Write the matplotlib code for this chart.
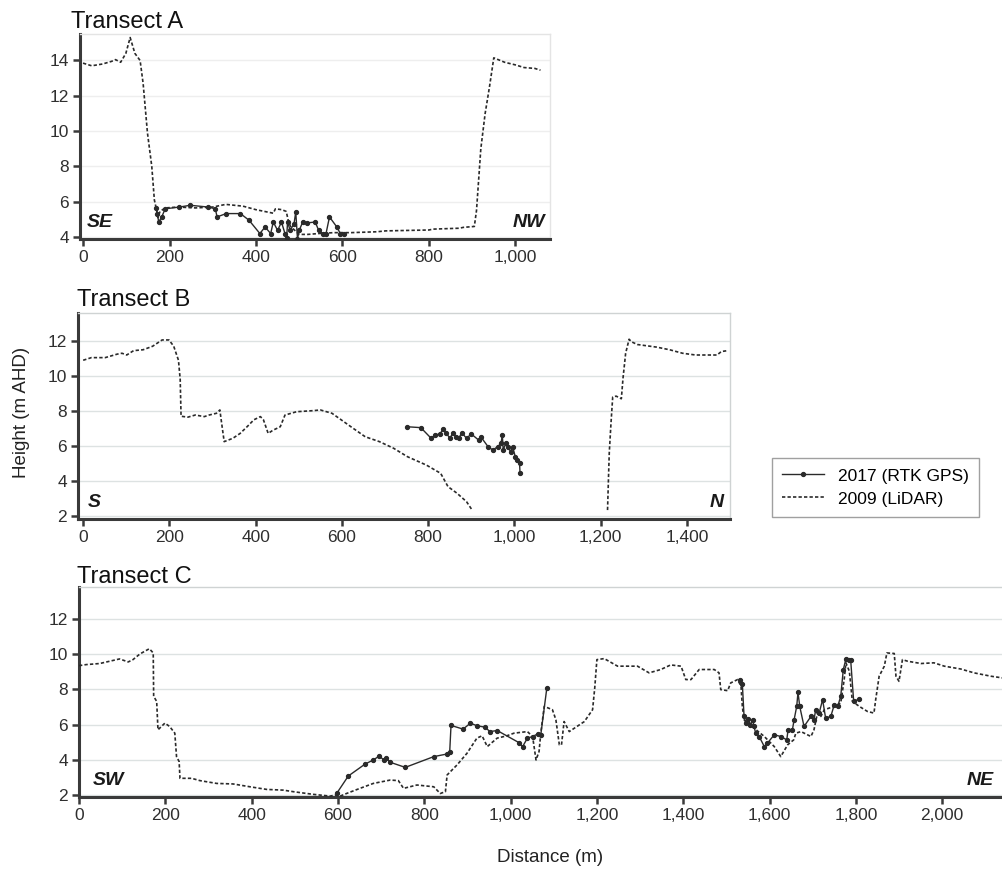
import numpy as np
import matplotlib
matplotlib.use('Agg')
import matplotlib.pyplot as plt
from matplotlib.ticker import FuncFormatter

plt.rcParams['font.family'] = ['Liberation Sans', 'DejaVu Sans']

# Transect A
a_lidar_x = [0, 20, 45, 66, 75, 87, 99, 109, 120, 132, 139, 149, 159, 165, 170, 173, 178, 190, 220, 260,
             300, 330, 370, 400, 430, 440, 445, 460, 470, 475, 480, 500, 520, 545, 580, 620, 680, 700,
             800, 810, 870, 880, 905, 910, 920, 930, 940, 950, 975, 1000, 1020, 1045, 1058]
a_lidar_y = [13.85, 13.7, 13.8, 13.95, 14.05, 13.9, 14.4, 15.3, 14.4, 14.0, 12.7, 9.9, 8.0, 6.1, 5.55, 5.1,
             5.45, 5.65, 5.7, 5.65, 5.7, 5.85, 5.75, 5.55, 5.4, 5.35, 5.6, 5.55, 5.45, 4.9, 4.6, 4.15, 4.15,
             4.2, 4.25, 4.25, 4.3, 4.35, 4.4, 4.45, 4.5, 4.55, 4.6, 5.5, 9.0, 11.0, 12.5, 14.15, 13.9,
             13.75, 13.6, 13.55, 13.45]
a_gps_x = [169, 172, 175, 182, 190, 223, 248, 289, 306, 310, 331, 364, 384, 409, 421, 434, 440, 450, 459,
           467, 471, 473, 479, 488, 492, 496, 500, 508, 517, 537, 545, 554, 562, 570, 587, 595, 603]
a_gps_y = [5.67, 5.33, 4.85, 5.14, 5.6, 5.7, 5.8, 5.7, 5.6, 5.14, 5.33, 5.33, 4.95, 4.2, 4.57, 4.2, 4.85,
           4.38, 4.85, 4.2, 3.96, 4.85, 4.38, 4.76, 5.42, 3.9, 4.38, 4.85, 4.8, 4.85, 4.38, 4.2, 4.2, 5.14,
           4.57, 4.2, 4.2]

# Transect B (gap in the LiDAR line between the two segments)
b_lidar_x = [0, 19, 51, 79, 90, 101, 117, 139, 161, 183, 199, 210, 221, 225, 227, 243, 260, 281, 292, 309,
             317, 320, 327, 347, 364, 380, 396, 411, 418, 429, 440, 457, 468, 495, 533, 550, 577, 621, 654,
             687, 720, 752, 796, 829, 846, 867, 889, 902, 1000,
             1216, 1218, 1220, 1224, 1228, 1236, 1248, 1252, 1258, 1266, 1272, 1285, 1300, 1330, 1360,
             1390, 1420, 1440, 1470, 1480, 1495]
b_lidar_y = [10.9, 11.05, 11.05, 11.25, 11.3, 11.2, 11.45, 11.5, 11.7, 12.06, 12.06, 11.7, 10.9, 9.8, 7.7,
             7.65, 7.77, 7.68, 7.77, 7.87, 8.06, 7.5, 6.25, 6.44, 6.72, 7.1, 7.5, 7.68, 7.5, 6.72, 6.9,
             7.1, 7.77, 7.96, 8.02, 8.06, 7.87, 7.1, 6.53, 6.25, 5.87, 5.39, 4.91, 4.44, 3.68, 3.3, 2.82,
             2.34, np.nan,
             2.34, 4.0, 5.6, 7.3, 8.8, 8.85, 8.7, 9.9, 11.3, 12.1, 11.95, 11.8, 11.75, 11.65, 11.5,
             11.3, 11.2, 11.2, 11.2, 11.4, 11.45]
b_gps_x = [752, 783, 807, 816, 827, 835, 842, 851, 857, 864, 871, 878, 889, 900, 917, 922, 939, 950, 961,
           969, 972, 974, 980, 985, 991, 996, 1002, 1007, 1012, 1013]
b_gps_y = [7.1, 7.05, 6.44, 6.63, 6.69, 6.95, 6.72, 6.44, 6.76, 6.53, 6.44, 6.76, 6.44, 6.69, 6.34, 6.53,
           5.96, 5.77, 5.96, 6.15, 6.63, 5.77, 6.15, 5.96, 5.68, 5.96, 5.39, 5.2, 5.01, 4.48]

# Transect C
c_lidar_x = [0, 17, 48, 71, 94, 114, 125, 141, 163, 172, 173, 180, 183, 191, 199, 210, 222, 226, 232, 234,
             261, 280, 319, 357, 396, 435, 473, 497, 543, 582, 593, 605, 620, 651, 682, 721, 740, 752,
             783, 822, 837, 849, 853, 876, 899, 922, 934, 946, 969, 990, 1008, 1039, 1051, 1059, 1066,
             1070, 1078, 1097, 1105, 1113, 1118, 1124, 1136, 1171, 1190, 1195, 1200, 1217, 1248, 1294,
             1321, 1348, 1371, 1395, 1406, 1418, 1437, 1472, 1483, 1487, 1503, 1510, 1526, 1534, 1537,
             1541, 1549, 1564, 1588, 1611, 1626, 1642, 1656, 1661, 1673, 1696, 1703, 1711, 1719, 1727,
             1750, 1765, 1773, 1777, 1785, 1792, 1808, 1827, 1842, 1846, 1854, 1866, 1872, 1889, 1893,
             1900, 1908, 1920, 1951, 1981, 2005, 2043, 2074, 2113, 2141]
c_lidar_y = [9.34, 9.4, 9.46, 9.59, 9.72, 9.55, 9.68, 10.0, 10.3, 10.06, 7.6, 7.31, 5.7, 5.89, 6.08, 5.89,
             5.51, 4.18, 3.9, 2.95, 2.95, 2.82, 2.66, 2.63, 2.47, 2.32, 2.28, 2.19, 2.04, 1.94, 2.0, 1.94,
             2.09, 2.38, 2.66, 2.85, 2.82, 2.38, 2.57, 2.47, 2.09, 2.19, 3.14, 3.71, 4.37, 5.23, 5.36,
             4.75, 5.23, 5.35, 5.51, 5.6, 5.32, 3.99, 4.47, 5.51, 7.03, 6.84, 6.27, 4.85, 4.85, 6.17,
             5.6, 6.17, 6.84, 8.07, 9.68, 9.74, 9.31, 9.31, 8.93, 9.12, 9.38, 9.31, 8.55, 8.55, 9.12,
             9.12, 8.93, 7.98, 7.92, 8.36, 8.55, 8.17, 7.03, 6.27, 6.08, 5.8, 5.32, 4.75, 4.18, 4.85,
             5.13, 5.51, 5.6, 5.32, 5.7, 6.65, 6.46, 6.84, 7.03, 7.22, 8.55, 9.5, 9.02, 7.31, 7.03, 6.74,
             6.65, 7.41, 8.74, 9.31, 10.06, 10.03, 8.74, 8.45, 9.68, 9.59, 9.46, 9.5, 9.31, 9.15, 8.93,
             8.74, 8.64]
c_gps_x = [597, 624, 663, 682, 696, 706, 712, 721, 756, 822, 853, 859, 862, 890, 907, 922, 941, 952, 969,
           1019, 1028, 1039, 1051, 1063, 1070, 1084, 1300,
           1532, 1537, 1541, 1545, 1551, 1555, 1561, 1564, 1568, 1576, 1588, 1595, 1611, 1626, 1640,
           1643, 1653, 1657, 1663, 1666, 1670, 1680, 1696, 1703, 1707, 1715, 1723, 1730, 1742, 1750,
           1758, 1765, 1771, 1777, 1785, 1788, 1795, 1808]
c_gps_y = [2.09, 3.08, 3.76, 3.99, 4.22, 3.99, 4.09, 3.86, 3.57, 4.18, 4.33, 4.47, 5.95, 5.74, 6.08, 5.93,
           5.85, 5.6, 5.66, 4.98, 4.75, 5.23, 5.32, 5.47, 5.42, 8.07, np.nan,
           8.55, 8.32, 6.46, 6.08, 6.31, 5.98, 6.27, 5.89, 5.51, 5.32, 4.75, 4.94, 5.42, 5.32, 5.13,
           5.7, 5.7, 6.27, 7.03, 7.83, 7.03, 5.89, 6.46, 6.27, 6.84, 6.65, 7.41, 6.36, 6.46, 7.12,
           7.03, 7.6, 9.12, 9.72, 9.68, 9.68, 7.31, 7.45]

fig = plt.figure(figsize=(10.03, 8.71), dpi=100)
W, H = 1003, 871


def rect(l, r, t, b):
    return [l / W, 1 - b / H, (r - l) / W, (b - t) / H]


panels = [
    dict(r=rect(80, 550, 34, 239), title='Transect A', tpos=(71, 28), xl=(-7, 1080), yl=(3.89, 15.5),
         xt=range(0, 1001, 200), yt=range(4, 15, 2), lx=a_lidar_x, ly=a_lidar_y, gx=a_gps_x, gy=a_gps_y,
         d=('SE', 'NW'), grid='#eeeeee', frame='#e4e4e4'),
    dict(r=rect(78, 730, 313, 519), title='Transect B', tpos=(77, 306), xl=(-12, 1500), yl=(1.83, 13.6),
         xt=range(0, 1401, 200), yt=range(2, 13, 2), lx=b_lidar_x, ly=b_lidar_y, gx=b_gps_x, gy=b_gps_y,
         d=('S', 'N'), grid='#dde2e2', frame='#cfd3d3'),
    dict(r=rect(79, 1003, 587, 797), title='Transect C', tpos=(77, 583), xl=(0, 2141), yl=(1.89, 13.8),
         xt=range(0, 2001, 200), yt=range(2, 13, 2), lx=c_lidar_x, ly=c_lidar_y, gx=c_gps_x, gy=c_gps_y,
         d=('SW', 'NE'), grid='#dde2e2', frame='#cfd3d3'),
]

dark = '#3a3a3a'
for p in panels:
    ax = fig.add_axes(p['r'])
    ax.plot(p['lx'], p['ly'], color='#2a2a2a', lw=1.2, ls=(0, (2, 1.3)), label='2009 (LiDAR)', zorder=3)
    ax.plot(p['gx'], p['gy'], color='#2a2a2a', lw=1.0, marker='o', ms=2.8, label='2017 (RTK GPS)', zorder=4)
    ax.set_xlim(p['xl'])
    ax.set_ylim(p['yl'])
    ax.set_xticks(list(p['xt']))
    ax.set_yticks(list(p['yt']))
    ax.xaxis.set_major_formatter(FuncFormatter(lambda v, pos: f'{int(v):,}'))
    ax.grid(axis='y', color=p['grid'], lw=1, zorder=0)
    ax.set_axisbelow(True)
    for s in ['left', 'bottom']:
        ax.spines[s].set_color(dark)
        ax.spines[s].set_linewidth(2.2)
    for s in ['top', 'right']:
        ax.spines[s].set_color(p['frame'])
        ax.spines[s].set_linewidth(1)
    ax.tick_params(direction='out', length=5, width=1.8, color=dark, labelcolor='#2f2f2f',
                   labelsize=12.5, pad=3)
    ax.text(0.015, 0.04, p['d'][0], transform=ax.transAxes, fontsize=14, fontweight='bold',
            fontstyle='italic', color='#1a1a1a', ha='left', va='bottom')
    ax.text(0.99, 0.04, p['d'][1], transform=ax.transAxes, fontsize=14, fontweight='bold',
            fontstyle='italic', color='#1a1a1a', ha='right', va='bottom')
    fig.text(p['tpos'][0] / W, 1 - p['tpos'][1] / H, p['title'], fontsize=17, color='#111111',
             ha='left', va='baseline')
    if p['title'] == 'Transect A':
        handles, labels = ax.get_legend_handles_labels()

fig.text(22 / W, 1 - 412 / H, 'Height (m AHD)', rotation=90, fontsize=13.5, color='#222222',
         ha='center', va='center')
fig.text(550 / W, 1 - 857 / H, 'Distance (m)', fontsize=13.5, color='#222222', ha='center', va='center')

leg = fig.legend(handles[::-1], labels[::-1], loc='upper left', bbox_to_anchor=(772 / W, 1 - 458 / H),
                 frameon=True, fancybox=False, edgecolor='#888888', fontsize=12.5, handlelength=2.4,
                 borderpad=0.6, labelspacing=0.45, borderaxespad=0)
leg.get_frame().set_linewidth(1)

fig.savefig('out.png', dpi=100)
